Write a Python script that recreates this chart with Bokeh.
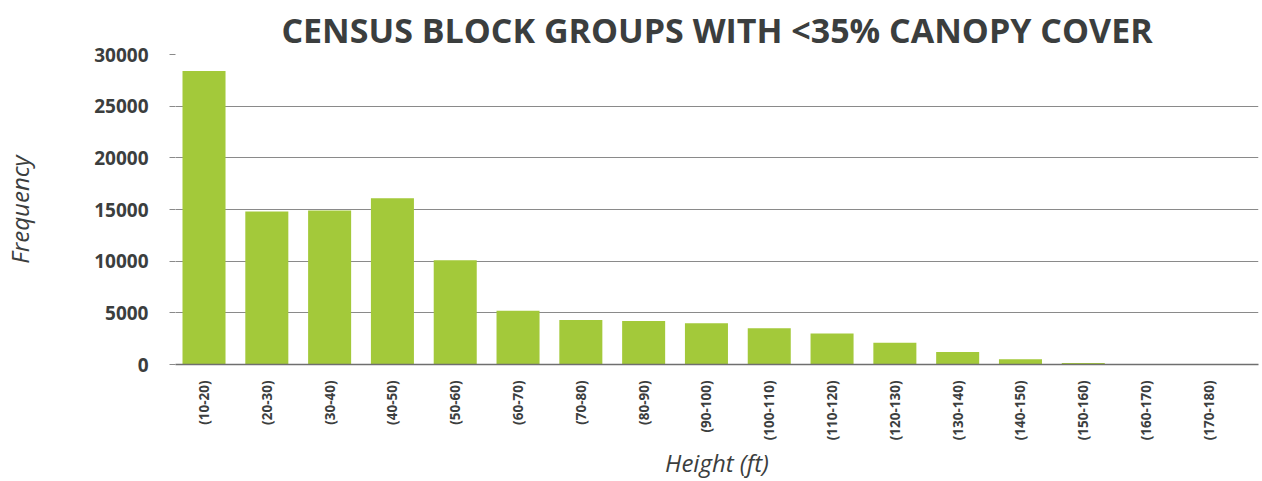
from bokeh.plotting import figure
from bokeh.models import Title, Range1d, FixedTicker, NumeralTickFormatter
from bokeh.embed import file_html
from bokeh.resources import INLINE

categories = ["(10-20)", "(20-30)", "(30-40)", "(40-50)", "(50-60)", "(60-70)",
              "(70-80)", "(80-90)", "(90-100)", "(100-110)", "(110-120)", "(120-130)",
              "(130-140)", "(140-150)", "(150-160)", "(160-170)", "(170-180)"]
frequency = [28400, 14800, 14900, 16100, 10100, 5200, 4300, 4200, 4000, 3500,
             3000, 2100, 1200, 500, 150, 0, 0]
y_ticks = [0, 5000, 10000, 15000, 20000, 25000, 30000]

# category i sits at i + 0.5 on a numeric axis; its label comes from `categories`
x_pos = [i + 0.5 for i in range(len(categories))]

BAR = "#a3c93a"
TXT = "#3b3e3e"

p = figure(width=1262, height=481, output_backend="svg", toolbar_location=None,
           x_range=Range1d(0.046, 17.29),
           y_range=Range1d(0, 30000),
           min_border_left=175, min_border_right=4, min_border_top=54, min_border_bottom=117)

p.vbar(x=x_pos, top=frequency, width=0.685, color=BAR, line_color=None)

p.title.text = "CENSUS BLOCK GROUPS WITH <35% CANOPY COVER"
p.title.align = "center"
p.title.vertical_align = "top"
p.title.text_font = "Open Sans"
p.title.text_font_size = "34px"
p.title.text_font_style = "bold"
p.title.text_color = TXT
p.title.standoff = 0

p.outline_line_color = None
p.background_fill_color = "white"
p.border_fill_color = "white"

p.xgrid.grid_line_color = None
p.ygrid.grid_line_color = "#8a8a8a"
p.ygrid.grid_line_width = 1
p.ygrid.ticker = FixedTicker(ticks=y_ticks)

p.yaxis.ticker = FixedTicker(ticks=y_ticks)
p.yaxis.formatter = NumeralTickFormatter(format="0")
p.yaxis.axis_line_color = None
p.yaxis.major_tick_in = 0
p.yaxis.major_tick_out = 6
p.yaxis.major_tick_line_color = "#8a8a8a"
p.yaxis.minor_tick_line_color = None
p.yaxis.major_label_text_font = "Open Sans"
p.yaxis.major_label_text_font_size = "19px"
p.yaxis.major_label_text_font_style = "bold"
p.yaxis.major_label_text_color = TXT
p.yaxis.major_label_standoff = 21
p.yaxis.axis_label = "Frequency"
p.yaxis.axis_label_text_font = "Open Sans"
p.yaxis.axis_label_text_font_size = "24px"
p.yaxis.axis_label_text_font_style = "italic"
p.yaxis.axis_label_text_color = TXT
p.yaxis.axis_label_standoff = 55

p.xaxis.ticker = FixedTicker(ticks=x_pos)
p.xaxis.major_label_overrides = {x: c for x, c in zip(x_pos, categories)}
p.xaxis.axis_line_color = "#6f6f6f"
p.xaxis.axis_line_width = 1.5
p.xaxis.major_tick_line_color = None
p.xaxis.minor_tick_line_color = None
p.xaxis.major_label_orientation = 3.14159265 / 2
p.xaxis.major_label_text_font = "Open Sans"
p.xaxis.major_label_text_font_size = "13.5px"
p.xaxis.major_label_text_font_style = "bold"
p.xaxis.major_label_text_color = TXT
p.xaxis.major_label_standoff = 10

p.add_layout(Title(text="Height (ft)", align="center", offset=38, standoff=0,
                   text_font="Open Sans", text_font_size="24px",
                   text_font_style="italic", text_color=TXT), "below")

open("out.html", "w").write(file_html(p, INLINE))
